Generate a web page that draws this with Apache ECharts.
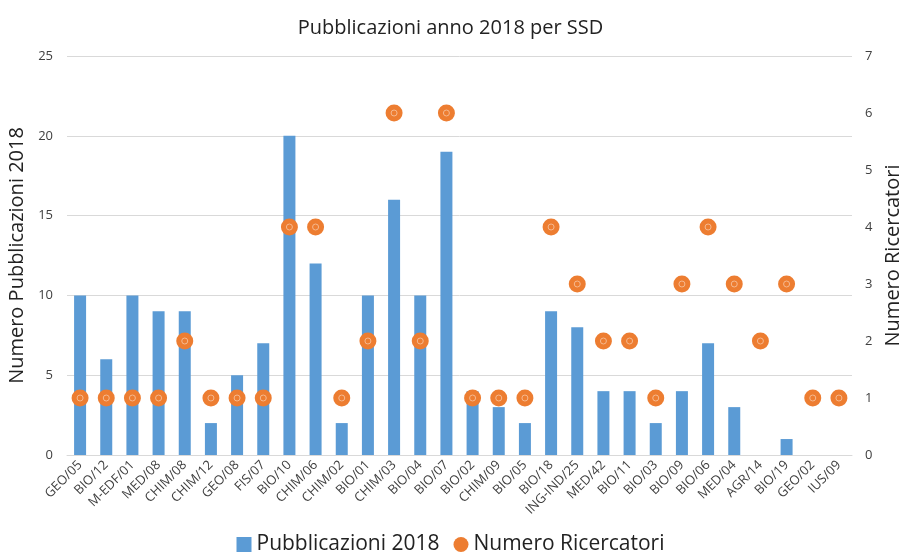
<!DOCTYPE html>
<html>
<head>
<meta charset="utf-8">
<script src="https://cdn.jsdelivr.net/npm/echarts@6/dist/echarts.min.js"></script>
<style>
  html, body { margin: 0; padding: 0; background: #fff; }
  #chart { width: 901px; height: 557px; }
</style>
</head>
<body>
<div id="chart"></div>
<script>
// settori scientifico-disciplinari
var ssd = ['GEO/05', 'BIO/12', 'M-EDF/01', 'MED/08', 'CHIM/08', 'CHIM/12', 'GEO/08', 'FIS/07',
    'BIO/10', 'CHIM/06', 'CHIM/02', 'BIO/01', 'CHIM/03', 'BIO/04', 'BIO/07', 'BIO/02',
    'CHIM/09', 'BIO/05', 'BIO/18', 'ING-IND/25', 'MED/42', 'BIO/11', 'BIO/03', 'BIO/09',
    'BIO/06', 'MED/04', 'AGR/14', 'BIO/19', 'GEO/02', 'IUS/09'];

var pubblicazioni = [10, 6, 10, 9, 9, 2, 5, 7, 20, 12, 2, 10, 16, 10, 19, 4,
    3, 2, 9, 8, 4, 4, 2, 4, 7, 3, 0, 1, 0, 0];

var ricercatori = [1, 1, 1, 1, 2, 1, 1, 1, 4, 4, 1, 2, 6, 2, 6, 1,
    1, 1, 4, 3, 2, 2, 1, 3, 4, 3, 2, 3, 1, 1];

var leftTicks = { min: 0, max: 25, interval: 5 };
var rightTicks = { min: 0, max: 7, interval: 1 };

var font = '"Open Sans", "Noto Sans", sans-serif';

var chart = echarts.init(document.getElementById('chart'));

var option = {
    animation: false,
    title: {
        text: 'Pubblicazioni anno 2018 per SSD',
        left: 'center',
        top: 13,
        textStyle: { fontFamily: font, fontSize: 20, fontWeight: 'normal', color: '#222' }
    },
    legend: {
        bottom: -3,
        left: 'center',
        itemGap: 14,
        itemWidth: 15,
        itemHeight: 15,
        textStyle: { fontFamily: font, fontSize: 21, color: '#222' },
        data: [
            { name: 'Pubblicazioni 2018', icon: 'rect' },
            { name: 'Numero Ricercatori', icon: 'circle' }
        ]
    },
    grid: { left: 67, right: 49, top: 56, bottom: 102, outerBoundsMode: 'none', containLabel: false },
    xAxis: {
        type: 'category',
        data: ssd,
        axisTick: { show: false },
        axisLine: { lineStyle: { color: '#d9d9d9' } },
        axisLabel: {
            interval: 0,
            rotate: 45,
            fontFamily: font,
            fontSize: 13,
            color: '#404040',
            margin: 8
        }
    },
    yAxis: [{
        type: 'value',
        min: leftTicks.min,
        max: leftTicks.max,
        interval: leftTicks.interval,
        name: 'Numero Pubblicazioni 2018',
        nameLocation: 'middle',
        nameGap: 28,
        nameTextStyle: { fontFamily: font, fontSize: 20, color: '#222' },
        axisLine: { show: false },
        axisTick: { show: false },
        axisLabel: { fontFamily: font, fontSize: 13, color: '#404040', margin: 14 },
        splitLine: { lineStyle: { color: '#d9d9d9' } }
    }, {
        type: 'value',
        min: rightTicks.min,
        max: rightTicks.max,
        interval: rightTicks.interval,
        name: 'Numero Ricercatori',
        nameLocation: 'middle',
        nameGap: 29,
        nameRotate: 90,
        nameTextStyle: { fontFamily: font, fontSize: 20, color: '#222' },
        axisLine: { show: false },
        axisTick: { show: false },
        axisLabel: { fontFamily: font, fontSize: 13, color: '#404040', margin: 13 },
        splitLine: { show: false }
    }],
    series: [{
        name: 'Pubblicazioni 2018',
        type: 'bar',
        data: pubblicazioni,
        barWidth: 12,
        itemStyle: { color: '#5b9bd5' }
    }, {
        name: 'Numero Ricercatori',
        type: 'scatter',
        yAxisIndex: 1,
        data: ricercatori,
        symbol: 'circle',
        symbolSize: 17,
        itemStyle: { color: '#ed7d31', opacity: 1 }
    }, {
        name: 'ring',
        type: 'scatter',
        yAxisIndex: 1,
        data: ricercatori,
        symbol: 'circle',
        symbolSize: 6,
        silent: true,
        itemStyle: { color: 'rgba(0,0,0,0)', borderColor: '#f6b98f', borderWidth: 1, opacity: 1 },
        z: 3
    }]
};

chart.setOption(option);
</script>
</body>
</html>
